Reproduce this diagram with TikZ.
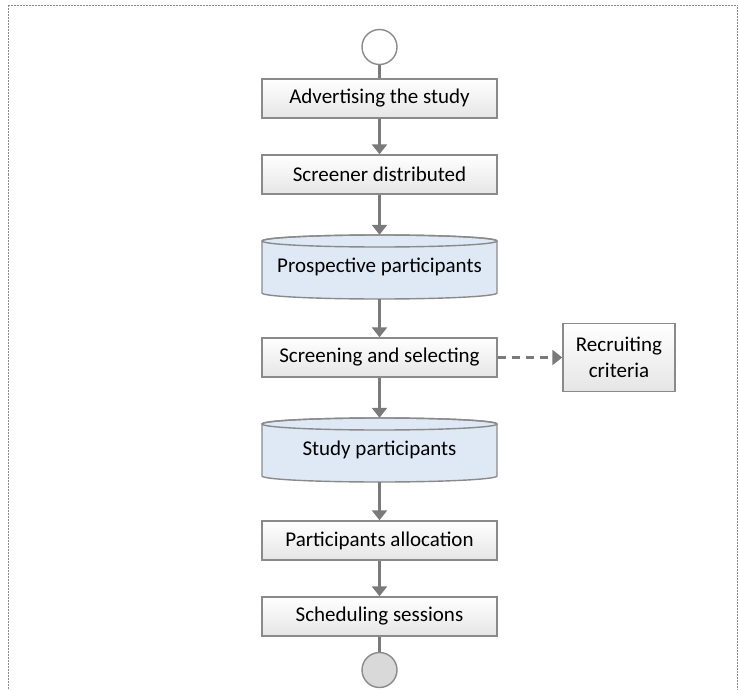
\documentclass[tikz,border=0pt]{standalone}
\usepackage{fontspec}
\setmainfont{Carlito}
\usetikzlibrary{arrows.meta}
\definecolor{edgegray}{HTML}{8A8A8A}
\definecolor{arrgray}{HTML}{7A7A7A}
\definecolor{cylblue}{HTML}{DEE9F5}
\definecolor{endgray}{HTML}{D9D9D9}
\tikzset{
  procbox/.style={rectangle, draw=edgegray, line width=1.4pt, top color=white, bottom color=black!10,
    minimum width=235pt, minimum height=39pt, inner sep=0pt, font=\fontsize{21}{24}\selectfont},
  cylnode/.style={rectangle, draw=none, minimum width=235pt, minimum height=64pt, inner sep=0pt,
    font=\fontsize{21}{24}\selectfont},
  cylbody/.style={fill=cylblue, draw=edgegray, line width=1.4pt},
  flow/.style={draw=arrgray, line width=2.4pt, -{Triangle[length=10pt,width=15pt]}},
  plainflow/.style={draw=arrgray, line width=2.4pt},
  dflow/.style={draw=arrgray, line width=2.4pt, dash pattern=on 8pt off 6pt, -{Triangle[length=10pt,width=15pt]}},
  terminal/.style={circle, draw=edgegray, line width=1.4pt, minimum size=35pt, inner sep=0pt},
}
\begin{document}
\begin{tikzpicture}[x=1pt,y=-1pt]
\useasboundingbox (0,0) rectangle (739,690);
\begin{scope}
\clip (0,0) rectangle (739,690);
\draw[edgegray, line width=0.9pt, dash pattern=on 2pt off 1pt] (8.5,5.5) rectangle (737.5,720);
\end{scope}

% start
\node[terminal, fill=white] (start) at (379.5,47) {};
\node[procbox] (adv) at (379.5,98.5) {Advertising the study};
\node[procbox] (scr) at (379.5,174.5) {Screener distributed};

% cylinder 1 (top 235, bottom 299)
\fill[cylbody] (262,241) -- (262,293) arc[start angle=180, end angle=0, x radius=117.5, y radius=6]
  -- (497,241) arc[start angle=0, end angle=-180, x radius=117.5, y radius=6] -- cycle;
\draw[edgegray, line width=1.4pt] (379.5,241) ellipse[x radius=117.5, y radius=6];
\node[cylnode] (pp) at (379.5,267) {Prospective participants};

\node[procbox] (sel) at (379.5,357.5) {Screening and selecting};
\node[procbox, minimum width=112pt, minimum height=68pt, align=center,
  font=\fontsize{21}{26}\selectfont] (crit) at (619,357.5) {Recruiting\\criteria};

% cylinder 2 (top 418, bottom 482)
\fill[cylbody] (262,424) -- (262,476) arc[start angle=180, end angle=0, x radius=117.5, y radius=6]
  -- (497,424) arc[start angle=0, end angle=-180, x radius=117.5, y radius=6] -- cycle;
\draw[edgegray, line width=1.4pt] (379.5,424) ellipse[x radius=117.5, y radius=6];
\node[cylnode] (sp) at (379.5,450) {Study participants};

\node[procbox] (alloc) at (379.5,540.5) {Participants allocation};
\node[procbox] (sched) at (379.5,616.5) {Scheduling sessions};
\node[terminal, fill=endgray] (stop) at (379.5,670) {};

\draw[plainflow] (start) -- (adv);
\draw[flow] (adv) -- (scr);
\draw[flow] (scr) -- (pp);
\draw[flow] (pp) -- (sel);
\draw[dflow] (sel) -- (crit);
\draw[flow] (sel) -- (sp);
\draw[flow] (sp) -- (alloc);
\draw[flow] (alloc) -- (sched);
\draw[plainflow] (sched) -- (stop);
\end{tikzpicture}
\end{document}
